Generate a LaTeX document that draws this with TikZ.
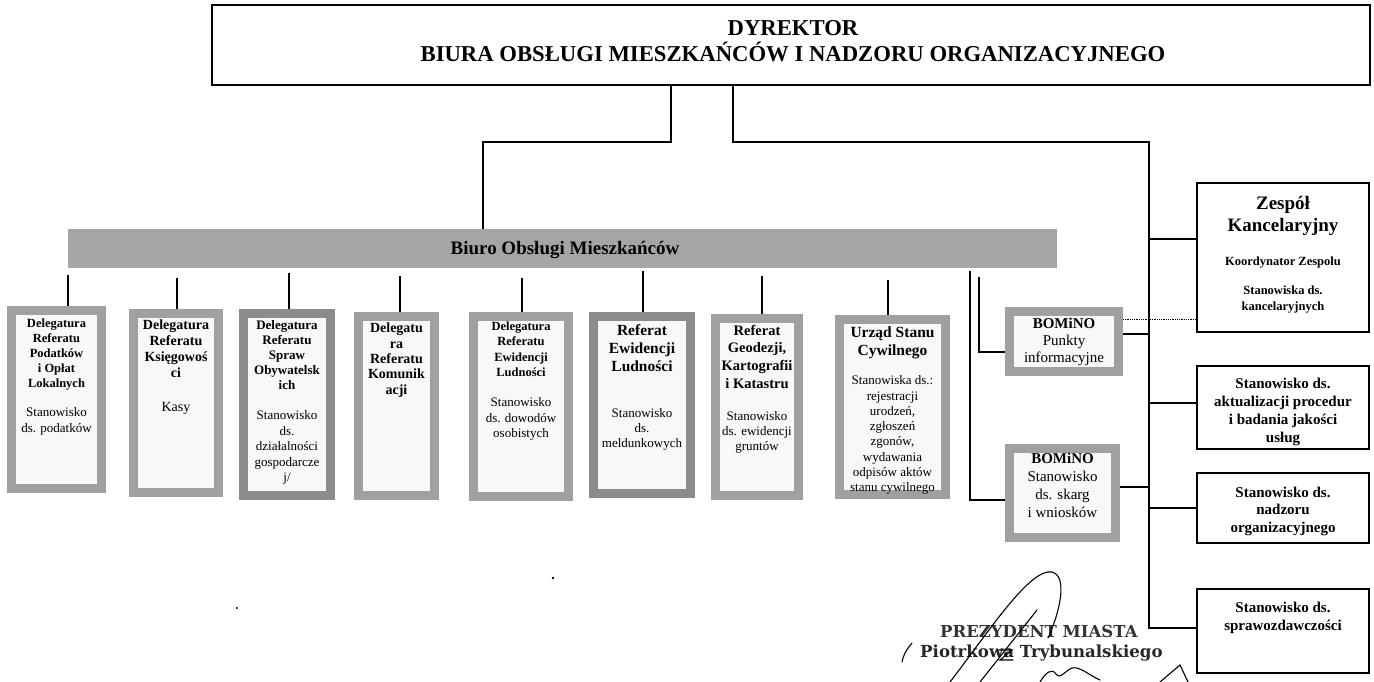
\documentclass[tikz,border=0pt]{standalone}
\usepackage{fontspec}
\setmainfont{Liberation Serif}
\newfontfamily\stampfont{DejaVu Serif}
\definecolor{framegray}{RGB}{160,160,160}
\definecolor{frame2}{RGB}{140,140,140}
\definecolor{bargray}{RGB}{165,165,165}
\definecolor{innerw}{RGB}{248,248,248}
\begin{document}
\begin{tikzpicture}[x=1pt,y=-1pt,
  frame/.style={rectangle, draw=framegray, line width=9pt, fill=innerw, inner sep=0pt},
  plainbox/.style={rectangle, draw=black, line width=1.3pt, fill=white, inner sep=0pt},
  conn/.style={draw=black, line width=1.2pt},
  txt/.style={anchor=north, inner sep=0pt, align=center},
  sig/.style={draw=black, line width=1.1pt, line cap=round}]
\useasboundingbox (0,0) rectangle (1374,682);
\fill[white] (0,0) rectangle (1374,682);

% top box
\node[plainbox, minimum width=1158pt, minimum height=80pt] (top) at (791,45) {};
\node[txt, font=\fontsize{22.7}{26}\selectfont\bfseries] (toptxt) at (793,20) {DYREKTOR\\BIURA OBSŁUGI MIESZKAŃCÓW I NADZORU ORGANIZACYJNEGO};

% bar
\node[rectangle, fill=bargray, minimum width=989pt, minimum height=39pt, inner sep=0pt] (bar) at (562.5,248.5) {};
\node[inner sep=0pt, font=\fontsize{19}{22}\selectfont\bfseries] (bartxt) at (565,250) {Biuro Obsługi Mieszkańców};

% department boxes
\node[frame, minimum width=90pt, minimum height=178pt] (b1) at (56.5,399.5) {};
\node[frame, minimum width=85pt, minimum height=179pt] (b2) at (176,403) {};
\node[frame, draw=frame2, minimum width=87pt, minimum height=182pt] (b3) at (287,404.5) {};
\node[frame, minimum width=76pt, minimum height=179pt] (b4) at (396.5,406) {};
\node[frame, minimum width=95pt, minimum height=180pt] (b5) at (521,406.5) {};
\node[frame, draw=frame2, minimum width=97pt, minimum height=177pt] (b6) at (642,405) {};
\node[frame, minimum width=83pt, minimum height=177pt] (b7) at (757,407) {};
\node[frame, minimum width=106pt, minimum height=175pt] (b8) at (892.5,407) {};
\node[frame, minimum width=109pt, minimum height=60pt] (bo1) at (1064,341.5) {};
\node[frame, minimum width=106pt, minimum height=89pt] (bo2) at (1062.5,493) {};

\node[txt, font=\fontsize{12.5}{15}\selectfont\bfseries] (t1a) at (56.5,318.6) {Delegatura\\Referatu\\Podatków\\i Opłat\\Lokalnych};
\node[txt, font=\fontsize{13}{16}\selectfont] (t1b) at (56.5,407.5) {Stanowisko\\ds. podatków};
\node[txt, font=\fontsize{14}{16}\selectfont\bfseries] (t2a) at (176,320) {Delegatura\\Referatu\\Księgowoś\\ci};
\node[txt, font=\fontsize{14}{16}\selectfont] (t2b) at (176,402) {Kasy};
\node[txt, font=\fontsize{13}{15}\selectfont\bfseries] (t3a) at (287,320.5) {Delegatura\\Referatu\\Spraw\\Obywatelsk\\ich};
\node[txt, font=\fontsize{13}{15.5}\selectfont] (t3b) at (287,410.5) {Stanowisko\\ds.\\działalności\\gospodarcze\\j/};
\node[txt, font=\fontsize{14}{15.3}\selectfont\bfseries] (t4a) at (396.5,323) {Delegatu\\ra\\Referatu\\Komunik\\acji};
\node[txt, font=\fontsize{12.5}{15.3}\selectfont\bfseries] (t5a) at (521,321.6) {Delegatura\\Referatu\\Ewidencji\\Ludności};
\node[txt, font=\fontsize{13}{15.5}\selectfont] (t5b) at (521,397.5) {Stanowisko\\ds. dowodów\\osobistych};
\node[txt, font=\fontsize{15.5}{18}\selectfont\bfseries] (t6a) at (642,324.6) {Referat\\Ewidencji\\Ludności};
\node[txt, font=\fontsize{13}{15}\selectfont] (t6b) at (642,408.5) {Stanowisko\\ds.\\meldunkowych};
\node[txt, font=\fontsize{14.5}{17.7}\selectfont\bfseries] (t7a) at (757,324.8) {Referat\\Geodezji,\\Kartografii\\i Katastru};
\node[txt, font=\fontsize{13}{15}\selectfont] (t7b) at (757,411.5) {Stanowisko\\ds. ewidencji\\gruntów};
\node[txt, font=\fontsize{15.5}{18}\selectfont\bfseries] (t8a) at (892.5,326.6) {Urząd Stanu\\Cywilnego};
\node[txt, font=\fontsize{13}{15.3}\selectfont] (t8b) at (892.5,375.5) {Stanowiska ds.:\\rejestracji\\urodzeń,\\zgłoszeń\\zgonów,\\wydawania\\odpisów aktów\\stanu cywilnego};
\node[txt, font=\fontsize{15}{17}\selectfont] (bo1t) at (1064,317.7) {\textbf{BOMiNO}\\Punkty\\informacyjne};
\node[txt, font=\fontsize{15}{18}\selectfont] (bo2t) at (1062.5,452.7) {\textbf{BOMiNO}\\Stanowisko\\ds. skarg\\i wniosków};

% right boxes
\node[plainbox, minimum width=172pt, minimum height=149pt] (zes) at (1283,257.5) {};
\node[plainbox, minimum width=172pt, minimum height=83pt] (akt) at (1283,407.5) {};
\node[plainbox, minimum width=172pt, minimum height=70pt] (nad) at (1283,508) {};
\node[plainbox, minimum width=172pt, minimum height=84pt] (spr) at (1283,631) {};
\node[txt, font=\fontsize{19}{22}\selectfont\bfseries] (zest1) at (1283,196.4) {Zespół\\Kancelaryjny};
\node[txt, font=\fontsize{12.5}{16}\selectfont\bfseries] (zest2) at (1283,256.6) {Koordynator Zespolu};
\node[txt, font=\fontsize{12.5}{16}\selectfont\bfseries] (zest3) at (1283,285.6) {Stanowiska ds.\\kancelaryjnych};
\node[txt, font=\fontsize{15}{18}\selectfont\bfseries] (aktt) at (1283,377.7) {Stanowisko ds.\\aktualizacji procedur\\i badania jakości\\usług};
\node[txt, font=\fontsize{15}{17.5}\selectfont\bfseries] (nadt) at (1283,486.7) {Stanowisko ds.\\nadzoru\\organizacyjnego};
\node[txt, font=\fontsize{15}{18}\selectfont\bfseries] (sprt) at (1283,601.7) {Stanowisko ds.\\sprawozdawczości};

% helper coordinates
\coordinate (tl) at (671,142);
\coordinate (tr) at (733,142);
\coordinate (bj) at (483,142);
\coordinate (spx) at (1149,142);
\coordinate (sprL) at ([yshift=3pt]spr.west);
\coordinate (zesL) at ([yshift=18.5pt]zes.west);
\coordinate (aktL) at ([yshift=4.5pt]akt.west);
\coordinate (bo1R) at ([yshift=7.5pt]bo1.east);
\coordinate (bo2R) at ([yshift=6pt]bo2.east);
\coordinate (bo1L) at ([yshift=-10.5pt]bo1.west);
\coordinate (bo2L) at ([yshift=-7pt]bo2.west);
\coordinate (dotA) at ([yshift=22.5pt]bo1.east);
\coordinate (f1) at (979,277);
\coordinate (f2) at (970,271);

% connectors from the director
\draw[conn] (tl |- top.south) -- (tl) -- (bj) -- (bj |- bar.north);
\draw[conn] (tr |- top.south) -- (tr) -- (spx) -- (spx |- sprL) -- (sprL);
\draw[conn] (spx |- zesL) -- (zesL);
\draw[conn] (spx |- aktL) -- (aktL);
\draw[conn] (spx |- nad.west) -- (nad.west);
\draw[conn] (bo1R) -- (bo1R -| spx);
\draw[conn] (bo2R) -- (bo2R -| spx);
\draw[densely dotted, line width=0.8pt] (dotA) -- (dotA -| zes.west);
\draw[conn] (f1) |- (bo1L);
\draw[conn] (f2) |- (bo2L);

% connectors from the bar
\coordinate (c1) at (68,275);
\coordinate (c2) at (177,278);
\coordinate (c3) at (289,273);
\coordinate (c4) at (400,276);
\coordinate (c5) at (522,278);
\coordinate (c6) at (643,271);
\coordinate (c7) at (762,276);
\coordinate (c8) at (888,280);
\draw[conn] (c1) -- (c1 |- b1.north);
\draw[conn] (c2) -- (c2 |- b2.north);
\draw[conn] (c3) -- (c3 |- b3.north);
\draw[conn] (c4) -- (c4 |- b4.north);
\draw[conn] (c5) -- (c5 |- b5.north);
\draw[conn] (c6) -- (c6 |- b6.north);
\draw[conn] (c7) -- (c7 |- b7.north);
\draw[conn] (c8) -- (c8 |- b8.north);

% stray marks
\fill (237,608) circle (1.2);
\fill (553,578) circle (1.3);

% stamp and signature
\node[anchor=west, inner sep=0pt, text=black!80, font=\stampfont\bfseries\fontsize{16.5}{20}\selectfont] (st1) at (940,631) {PREZYDENT MIASTA};
\node[anchor=west, inner sep=0pt, text=black!85, font=\stampfont\bfseries\fontsize{16.6}{18}\selectfont] (st2) at (920,653) {Piotrkowa Trybunalskiego};
\draw[sig] (950,682) .. controls (990,630) and (1030,568) .. (1052,572) .. controls (1068,576) and (1060,612) .. (1048,638);
\draw[sig] (980,682) -- (1037,610);
\draw[sig] (912,643) .. controls (906,650) and (903,656) .. (902,662);
\draw[sig] (1040,682) .. controls (1046,672) and (1052,668) .. (1056,674) .. controls (1060,680) and (1066,670) .. (1072,668) .. controls (1080,666) and (1090,676) .. (1100,680);
\draw[sig] (999,650) -- (1012,650) -- (1000,660) -- (1013,660);
\draw[sig] (1160,682) -- (1180,665) -- (1188,682);
\end{tikzpicture}
\end{document}
